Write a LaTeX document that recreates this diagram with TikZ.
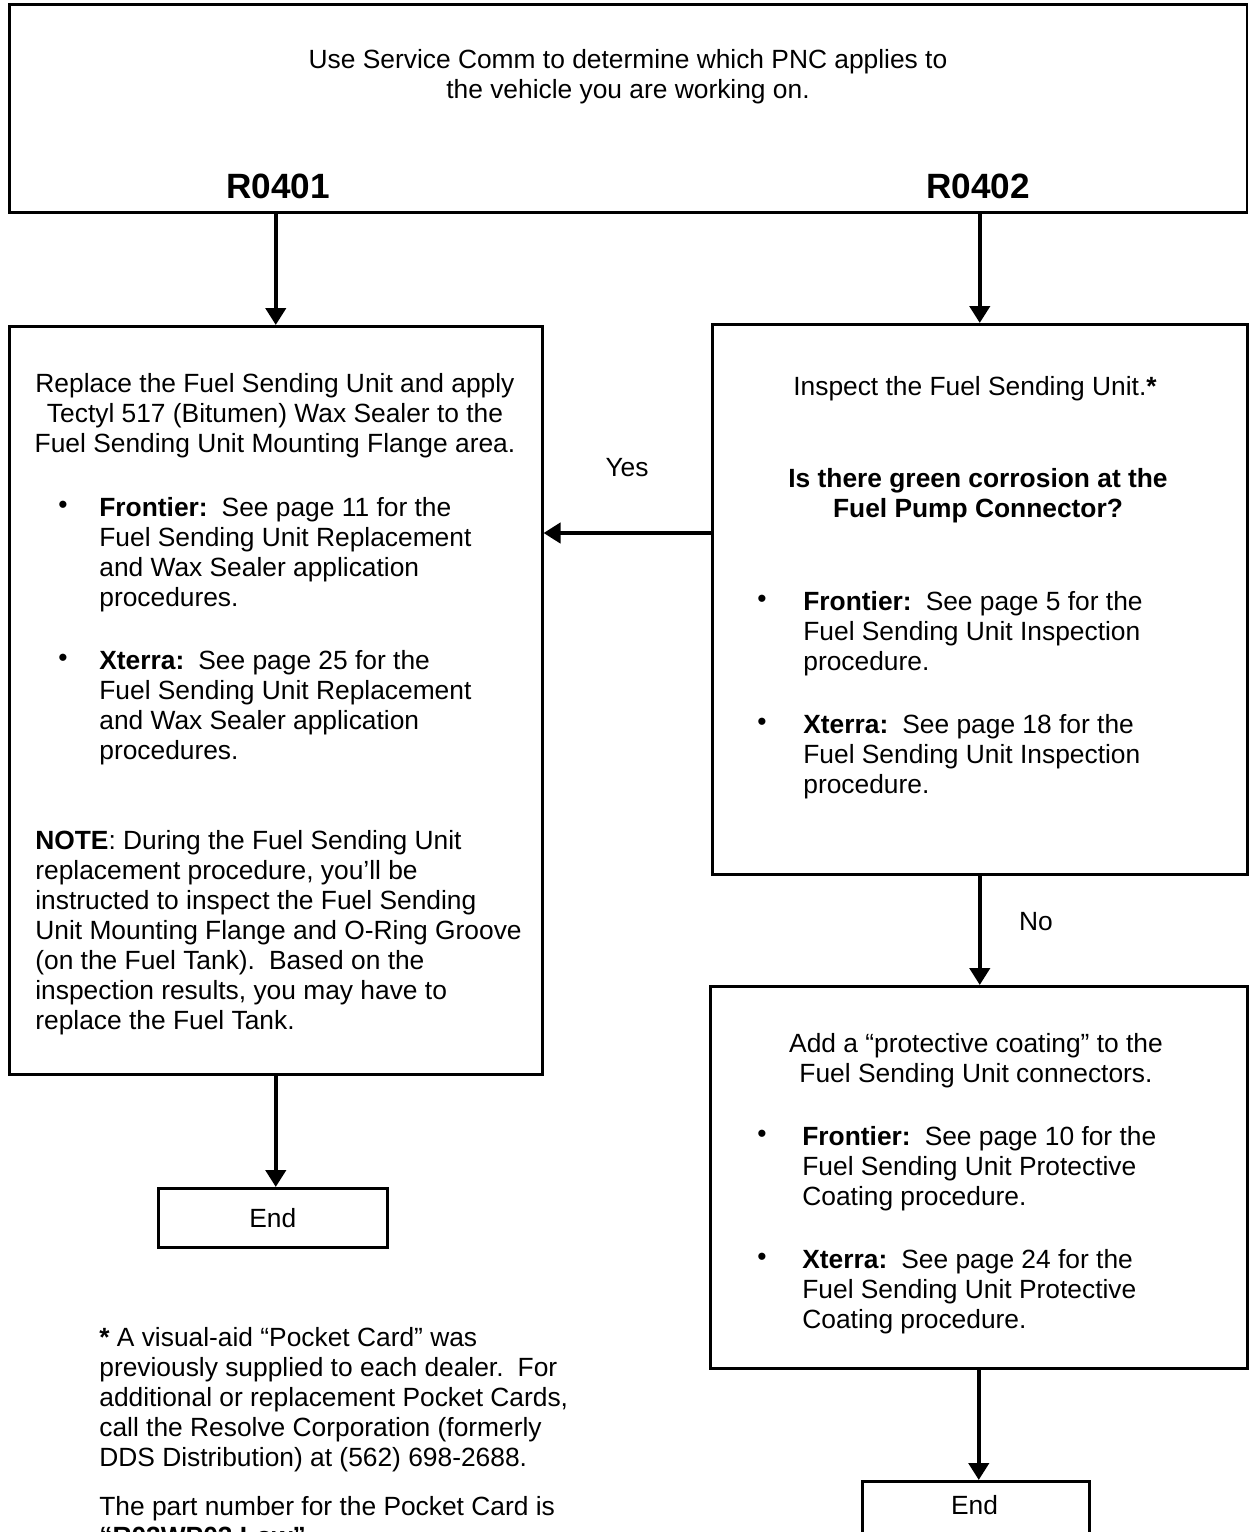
\documentclass[tikz,border=0pt]{standalone}
\usepackage{fontspec}
\setmainfont{Liberation Sans}
\usetikzlibrary{arrows.meta}
\newcommand{\flowfont}{\fontsize{15}{17.1}\selectfont}
\newcommand{\gap}{\hspace{8pt}}% two spaces after a colon or full stop
\tikzset{
	flowbox/.style = {rectangle, draw=black, line width=1.5pt,
		anchor=north west, inner sep=0pt},% plain box, placed by its top left corner
	flowtext/.style = {inner sep=0pt, font=\flowfont},
	ctext/.style = {flowtext, align=center, anchor=north},% centred lines
	ltext/.style = {flowtext, align=left, anchor=north west},% bullet text, notes
	heading/.style = {inner sep=0pt, font=\fontsize{20}{24}\selectfont\bfseries},
	link/.style = {line width=2.4pt}
}

\begin{document}
\begin{tikzpicture}[x=0.02cm, y=-0.02cm, >={Triangle[length=0.34cm, width=0.4cm]}]
\useasboundingbox (0,0) rectangle (1248,1532);

% PNC selection
\node [flowbox, minimum width=24.76cm, minimum height=4.16cm] (pnc) at (8,3) {};
\node [ctext] (pnctext) at (628,49) {Use Service Comm to determine which PNC applies to\\the vehicle you are working on.};
\node [heading] (r0401) at (278,186) {R0401};
\node [heading] (r0402) at (978,186) {R0402};

% R0401 branch
\node [flowbox, minimum width=10.66cm, minimum height=14.96cm] (replace) at (8,325) {};
\node [ctext] (replacetext) at (275,373) {Replace the Fuel Sending Unit and apply\\Tectyl 517 (Bitumen) Wax Sealer to the\\Fuel Sending Unit Mounting Flange area.};
\node [flowtext] (rdot1) at (63,507) {\textbullet};
\node [ltext] (rfrontier) at (99,497) {\textbf{Frontier:}\gap See page 11 for the\\Fuel Sending Unit Replacement\\and Wax Sealer application\\procedures.};
\node [flowtext] (rdot2) at (63,660) {\textbullet};
\node [ltext] (rxterra) at (99,650) {\textbf{Xterra:}\gap See page 25 for the\\Fuel Sending Unit Replacement\\and Wax Sealer application\\procedures.};
\node [ltext] (note) at (35,830) {\textbf{NOTE}: During the Fuel Sending Unit\\replacement procedure, you’ll be\\instructed to inspect the Fuel Sending\\Unit Mounting Flange and O-Ring Groove\\(on the Fuel Tank).\gap Based on the\\inspection results, you may have to\\replace the Fuel Tank.};
\node [flowbox, minimum width=4.58cm, minimum height=1.18cm, font=\flowfont] (endl) at (157,1187) {End};

% R0402 branch
\node [flowbox, minimum width=10.70cm, minimum height=11.00cm] (inspect) at (711,323) {};
\node [ctext] (inspecttext) at (975,376) {Inspect the Fuel Sending Unit.\textbf{*}};
\node [ctext, font=\flowfont\bfseries] (question) at (978,468) {Is there green corrosion at the\\Fuel Pump Connector?};
\node [flowtext] (idot1) at (762,601) {\textbullet};
\node [ltext] (ifrontier) at (803,591) {\textbf{Frontier:}\gap See page 5 for the\\Fuel Sending Unit Inspection\\procedure.};
\node [flowtext] (idot2) at (762,724) {\textbullet};
\node [ltext] (ixterra) at (803,714) {\textbf{Xterra:}\gap See page 18 for the\\Fuel Sending Unit Inspection\\procedure.};

\node [flowbox, minimum width=10.74cm, minimum height=7.64cm] (coat) at (709,985) {};
\node [ctext] (coattext) at (976,1033) {Add a “protective coating” to the\\Fuel Sending Unit connectors.};
\node [flowtext] (cdot1) at (762,1136) {\textbullet};
\node [ltext] (cfrontier) at (802,1126) {\textbf{Frontier:}\gap See page 10 for the\\Fuel Sending Unit Protective\\Coating procedure.};
\node [flowtext] (cdot2) at (762,1259) {\textbullet};
\node [ltext] (cxterra) at (802,1249) {\textbf{Xterra:}\gap See page 24 for the\\Fuel Sending Unit Protective\\Coating procedure.};
\node [flowbox, minimum width=4.54cm, minimum height=1.6cm] (endr) at (861,1480) {};
\node [flowtext] (endrtext) at (974.5,1505) {End};

% answers
\coordinate (yesrow) at (0,533);
\node [flowtext] (yes) at (627,468) {Yes};
\node [flowtext] (no) at (1036,922) {No};

% connectors
\draw [->, link] (replace.north |- pnc.south) -- (replace.north);
\draw [->, link] (inspect.north |- pnc.south) -- (inspect.north);
\draw [->, link] (inspect.west |- yesrow) -- (replace.east |- yesrow);
\draw [->, link] (inspect.south) -- (inspect.south |- coat.north);
\draw [->, link] (coat.south) -- (coat.south |- endr.north);
\draw [->, link] (replace.south) -- (replace.south |- endl.north);

% footnote
\node [ltext] (foot) at (99,1327) {\textbf{*} A visual-aid “Pocket Card” was\\previously supplied to each dealer.\gap For\\additional or replacement Pocket Cards,\\call the Resolve Corporation (formerly\\DDS Distribution) at (562) 698-2688.};
\node [ltext] (partno) at (99,1496) {The part number for the Pocket Card is\\\textbf{“R03WP03 Low”}};
\end{tikzpicture}
\end{document}
